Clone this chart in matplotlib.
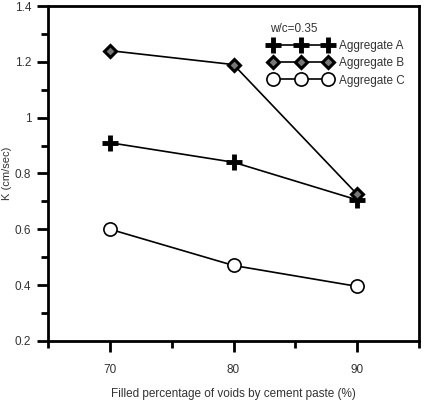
import matplotlib
matplotlib.use("Agg")
import matplotlib.pyplot as plt
from matplotlib.ticker import MultipleLocator

plt.rcParams['font.family'] = ['Liberation Sans', 'DejaVu Sans']

x = [70, 80, 90]
agg_a = [0.91, 0.84, 0.705]
agg_b = [1.24, 1.19, 0.725]
agg_c = [0.60, 0.47, 0.395]

fig = plt.figure(figsize=(4.25, 4.0), dpi=100)
ax = fig.add_axes([0.113, 0.148, 0.873, 0.837])

ax.plot(x, agg_a, color='black', lw=1.2, marker='+', markersize=12,
        markeredgecolor='black', markeredgewidth=3.5, label='Aggregate A', zorder=3)
ax.plot(x, agg_b, color='black', lw=1.2, marker='D', markersize=6,
        markerfacecolor='#777777', markeredgecolor='black', markeredgewidth=2.2,
        label='Aggregate B', zorder=3)
ax.plot(x, agg_c, color='black', lw=1.2, marker='o', markersize=9.5,
        markerfacecolor='white', markeredgecolor='black', markeredgewidth=1.2,
        label='Aggregate C', zorder=3)

ax.set_xlim(65, 95)
ax.set_ylim(0.2, 1.4)
ax.set_xticks([70, 80, 90])
ax.xaxis.set_minor_locator(MultipleLocator(5))
ax.yaxis.set_minor_locator(MultipleLocator(0.1))
ax.set_yticks([0.2, 0.4, 0.6, 0.8, 1.0, 1.2, 1.4])
ax.set_yticklabels(['0.2', '0.4', '0.6', '0.8', '1', '1.2', '1.4'])

for s in ax.spines.values():
    s.set_linewidth(2)
ax.tick_params(axis='both', which='major', direction='out', length=8, width=2,
               labelsize=8.5, color='black', labelcolor='#333333', pad=4)
ax.tick_params(axis='both', which='minor', direction='out', length=5, width=2)
ax.tick_params(axis='x', which='major', pad=9)

ax.set_xlabel('Filled percentage of voids by cement paste (%)', fontsize=8.5,
              color='#333333', labelpad=8)
ax.set_ylabel('K (cm/sec)', fontsize=8, color='#333333')
ax.yaxis.set_label_coords(-0.097, 0.5)

leg = ax.legend(title='w/c=0.35', loc='upper right', bbox_to_anchor=(0.985, 0.975),
                numpoints=3, frameon=False, fontsize=8.5, title_fontsize=8.5,
                handlelength=5.2, handletextpad=0.7, labelspacing=0.45,
                borderpad=0.2)
leg._legend_box.align = 'left'
leg.get_title().set_color('#333333')
for t in leg.get_texts():
    t.set_color('#333333')

fig.savefig('out.png', dpi=100)
